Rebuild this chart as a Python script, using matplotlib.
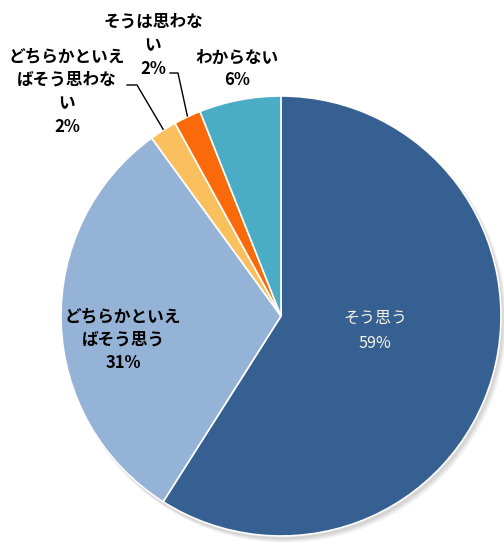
import matplotlib.pyplot as plt
from matplotlib.patches import Circle
import numpy as np

plt.rcParams['font.family'] = ['Noto Sans CJK JP', 'DejaVu Sans']

categories = ["そう思う", "どちらかといえばそう思う", "どちらかといえばそう思わない",
              "そうは思わない", "わからない"]
values = [59, 31, 2, 2, 6]
colors = ["#376092", "#95B3D7", "#FAC05E", "#FA6A0A", "#4BACC6"]

fig = plt.figure(figsize=(5.04, 5.44), dpi=100)
ax = fig.add_axes([0, 0, 1, 1])

center = (281, 228)
radius = 220

# soft drop shadow under the whole pie
for i, a in enumerate([0.10, 0.12, 0.15]):
    off = 4 - i
    ax.add_patch(Circle((center[0] + off, center[1] - off - 1), radius + 1.5 - i * 0.5,
                        color="#808080", alpha=a, lw=0, zorder=0))

wedges, _ = ax.pie(values, colors=colors, startangle=90, counterclock=False,
                   center=center, radius=radius, frame=True,
                   wedgeprops=dict(edgecolor="white", linewidth=1.2, zorder=1))
ax.set_xlim(0, 504)
ax.set_ylim(0, 544)
ax.set_aspect("equal")
ax.axis("off")


def label(x, y_top, lines, step=23.5, **kw):
    # one text per line keeps the boxes tight
    for k, s in enumerate(lines):
        ax.text(x, y_top - k * step, s, ha="center", va="center", **kw)


bold = dict(fontsize=12, fontweight="bold", color="black")

# inside labels
label(375, 226, ["そう思う", f"{values[0]}%"], step=25, fontsize=11.5, color="#F8F4E4")
label(123, 228, ["どちらかといえ", "ばそう思う", f"{values[1]}%"], **bold)

# outside labels
label(67, 488, ["どちらかといえ", "ばそう思わな", "い", f"{values[2]}%"], **bold)
label(153, 522, ["そうは思わな", "い", f"{values[3]}%"], **bold)
label(237, 486, ["わからない", f"{values[4]}%"], step=22, **bold)


def edge_point(w, frac=1.0):
    mid = np.deg2rad((w.theta1 + w.theta2) / 2)
    return (center[0] + radius * frac * np.cos(mid), center[1] + radius * frac * np.sin(mid))


# leader lines for the two small slices
x0, y0 = edge_point(wedges[2])
ax.plot([x0, 137, 127], [y0 + 1, 459, 459], color="black", lw=1)
x1, y1 = edge_point(wedges[3])
ax.plot([x1, 178, 170], [y1 + 1, 471, 471], color="black", lw=1)

fig.savefig("out.png", dpi=100)
